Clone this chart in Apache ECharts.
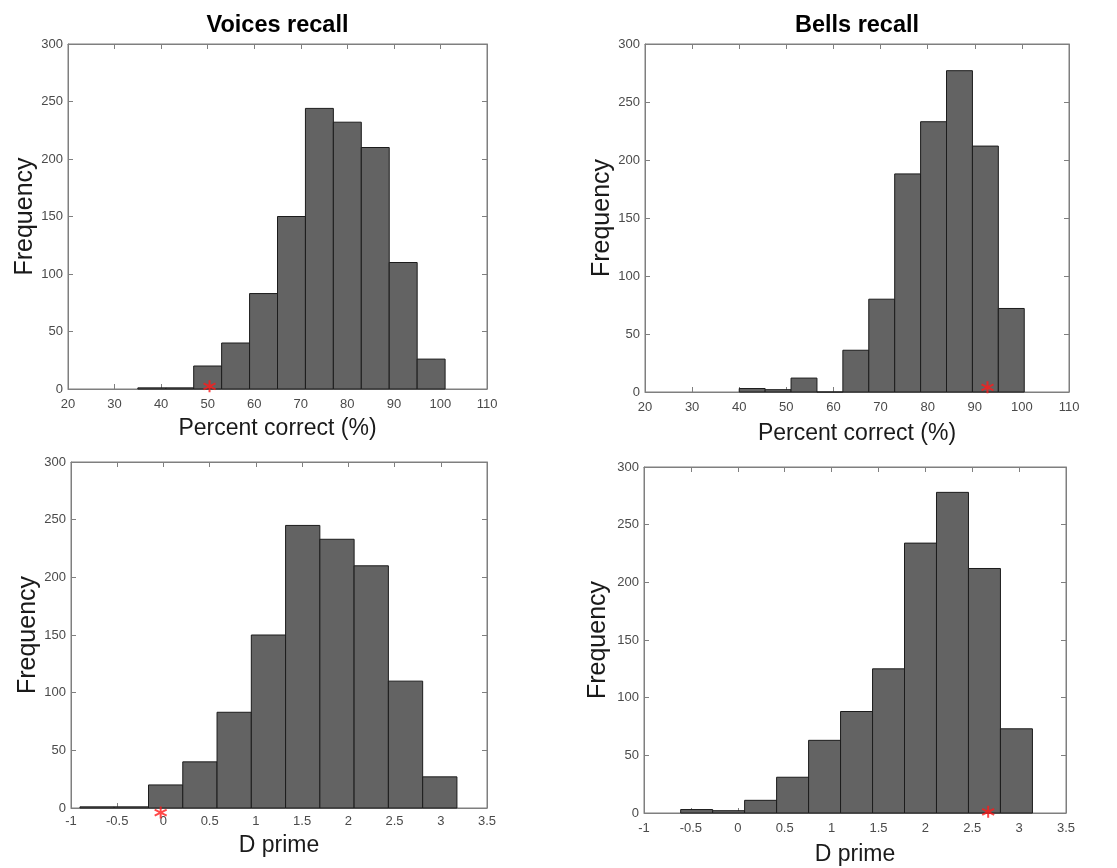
<!DOCTYPE html>
<html>
<head>
<meta charset="utf-8">
<script src="https://cdn.jsdelivr.net/npm/echarts@6/dist/echarts.min.js"></script>
<style>
html,body{margin:0;padding:0;background:#fff;}
#chart{width:1117px;height:868px;}
</style>
</head>
<body>
<div id="chart"></div>
<script>
// ---------- DATA ----------
const panelTitles = ['Voices recall', 'Bells recall', '', ''];
const xNames = ['Percent correct (%)', 'Percent correct (%)', 'D prime', 'D prime'];

// Voices recall, percent correct
const voicesPctBinStart = 35;
const voicesPctBinWidth = 6;
const voicesPctCounts = [1, 1, 20, 40, 83, 150, 244, 232, 210, 110, 26];
const voicesPctStar = [50.4, 2.3];

// Bells recall, percent correct
const bellsPctBinStart = 40;
const bellsPctBinWidth = 5.5;
const bellsPctCounts = [3, 2, 12, 0, 36, 80, 188, 233, 277, 212, 72];
const bellsPctStar = [92.7, 4];

// Voices recall, d prime
const voicesDpBinStart = -0.903;
const voicesDpBinWidth = 0.3707;
const voicesDpCounts = [1, 1, 20, 40, 83, 150, 245, 233, 210, 110, 27];
const voicesDpStar = [-0.03, -4];

// Bells recall, d prime
const bellsDpBinStart = -0.609;
const bellsDpBinWidth = 0.341;
const bellsDpCounts = [3, 2, 11, 31, 63, 88, 125, 234, 278, 212, 73];
const bellsDpStar = [2.67, 1];

// axis ranges / ticks
const pctAxis = { min: 20, max: 110, interval: 10 };
const dpAxis = { min: -1, max: 3.5, interval: 0.5 };
const freqAxis = { min: 0, max: 300, interval: 50 };

// ---------- BUILD ----------
function bins(start, width, counts) {
  return counts.map((c, i) => [start + i * width, start + (i + 1) * width, c]);
}
const panels = [
  { data: bins(voicesPctBinStart, voicesPctBinWidth, voicesPctCounts), star: voicesPctStar, xr: pctAxis },
  { data: bins(bellsPctBinStart, bellsPctBinWidth, bellsPctCounts), star: bellsPctStar, xr: pctAxis },
  { data: bins(voicesDpBinStart, voicesDpBinWidth, voicesDpCounts), star: voicesDpStar, xr: dpAxis },
  { data: bins(bellsDpBinStart, bellsDpBinWidth, bellsDpCounts), star: bellsDpStar, xr: dpAxis }
];

const gridPos = [
  { left: 68, top: 44, width: 419, height: 345 },
  { left: 645, top: 44, width: 424, height: 348 },
  { left: 71, top: 462, width: 416, height: 346 },
  { left: 644, top: 467, width: 422, height: 346 }
];
const xNameGap = [28, 30, 26, 30];
const yNameGap = [29, 29, 29, 33];
const xLabelMargin = [9, 9, 7, 9];

const FONT = '"Liberation Sans", Arial, Helvetica, sans-serif';
const AX = '#7f7f7f';
const LBL = '#4a4a4a';

const grid = [], xAxis = [], yAxis = [], series = [];
panels.forEach((p, k) => {
  grid.push(Object.assign({ show: true, borderColor: AX, borderWidth: 1, backgroundColor: '#fff', containLabel: false }, gridPos[k]));
  const common = { type: 'value', gridIndex: k, min: p.xr.min, max: p.xr.max, interval: p.xr.interval,
    splitLine: { show: false }, axisLine: { show: true, onZero: false, lineStyle: { color: AX, width: 1 } },
    axisTick: { show: true, inside: true, length: 5, lineStyle: { color: AX } } };
  xAxis.push(Object.assign({}, common, {
    position: 'bottom',
    name: xNames[k], nameLocation: 'middle', nameGap: xNameGap[k],
    nameTextStyle: { fontFamily: FONT, fontSize: 23, color: '#1a1a1a' },
    axisLabel: { fontFamily: FONT, fontSize: 13, color: LBL, margin: xLabelMargin[k] }
  }));
  xAxis.push(Object.assign({}, common, {
    position: 'top',
    name: panelTitles[k], nameLocation: 'middle', nameGap: 6,
    nameTextStyle: { fontFamily: FONT, fontSize: 23.5, fontWeight: 'bold', color: '#000' },
    axisLabel: { show: false }
  }));
  const ycommon = { type: 'value', gridIndex: k, min: freqAxis.min, max: freqAxis.max, interval: freqAxis.interval,
    splitLine: { show: false }, axisLine: { show: true, onZero: false, lineStyle: { color: AX, width: 1 } },
    axisTick: { show: true, inside: true, length: 5, lineStyle: { color: AX } } };
  yAxis.push(Object.assign({}, ycommon, {
    position: 'left',
    name: 'Frequency', nameLocation: 'middle', nameGap: yNameGap[k], nameRotate: 90,
    nameTextStyle: { fontFamily: FONT, fontSize: 25, color: '#1a1a1a' },
    axisLabel: { fontFamily: FONT, fontSize: 13, color: LBL, margin: 5 }
  }));
  yAxis.push(Object.assign({}, ycommon, { position: 'right', axisLabel: { show: false } }));

  series.push({
    type: 'custom',
    xAxisIndex: 2 * k, yAxisIndex: 2 * k,
    data: p.data,
    encode: { x: [0, 1], y: 2 },
    clip: false,
    renderItem: function (params, api) {
      const a = api.coord([api.value(0), api.value(2)]);
      const b = api.coord([api.value(1), 0]);
      return { type: 'rect',
        shape: { x: a[0], y: a[1], width: b[0] - a[0], height: b[1] - a[1] },
        style: { fill: '#636363', stroke: '#1c1c1c', lineWidth: 1 } };
    },
    z: 2
  });
  series.push({
    type: 'scatter',
    xAxisIndex: 2 * k, yAxisIndex: 2 * k,
    data: [p.star],
    clip: false,
    symbol: 'path://M0,-6L0,6M-5.2,-3L5.2,3M-5.2,3L5.2,-3',
    symbolSize: 12,
    itemStyle: { color: 'rgba(0,0,0,0)', borderColor: '#ff1a1a', borderWidth: 2 },
    z: 5
  });
});

const chart = echarts.init(document.getElementById('chart'), null, { renderer: 'canvas' });
chart.setOption({ animation: false, backgroundColor: '#fff', grid, xAxis, yAxis, series });
</script>
</body>
</html>
